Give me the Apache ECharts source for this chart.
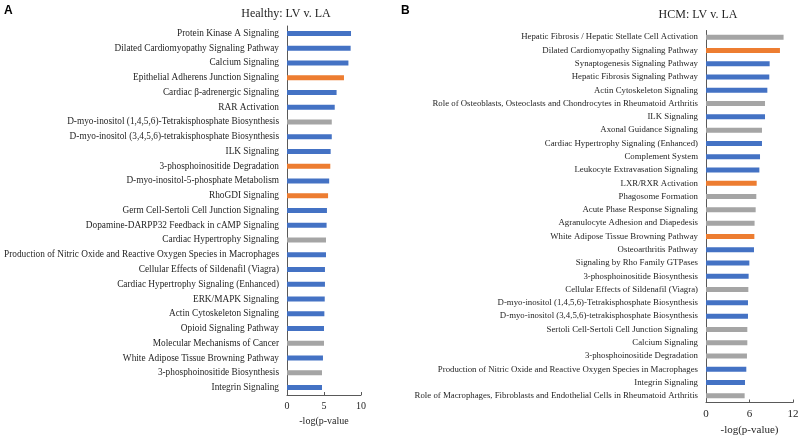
<!DOCTYPE html>
<html>
<head>
<meta charset="utf-8">
<script src="https://cdn.jsdelivr.net/npm/echarts@6/dist/echarts.min.js"></script>
<style>html,body{margin:0;padding:0;background:#fff}#c{width:800px;height:436px}</style>
</head>
<body>
<div id="c"></div>
<script>
// Panel A: Healthy: LV v. LA
const catsA = [
  "Protein Kinase A Signaling",
  "Dilated Cardiomyopathy Signaling Pathway",
  "Calcium Signaling",
  "Epithelial Adherens Junction Signaling",
  "Cardiac β-adrenergic Signaling",
  "RAR Activation",
  "D-myo-inositol (1,4,5,6)-Tetrakisphosphate Biosynthesis",
  "D-myo-inositol (3,4,5,6)-tetrakisphosphate Biosynthesis",
  "ILK Signaling",
  "3-phosphoinositide Degradation",
  "D-myo-inositol-5-phosphate Metabolism",
  "RhoGDI Signaling",
  "Germ Cell-Sertoli Cell Junction Signaling",
  "Dopamine-DARPP32 Feedback in cAMP Signaling",
  "Cardiac Hypertrophy Signaling",
  "Production of Nitric Oxide and Reactive Oxygen Species in Macrophages",
  "Cellular Effects of Sildenafil (Viagra)",
  "Cardiac Hypertrophy Signaling (Enhanced)",
  "ERK/MAPK Signaling",
  "Actin Cytoskeleton Signaling",
  "Opioid Signaling Pathway",
  "Molecular Mechanisms of Cancer",
  "White Adipose Tissue Browning Pathway",
  "3-phosphoinositide Biosynthesis",
  "Integrin Signaling"
];
const valsA = [8.65, 8.6, 8.3, 7.7, 6.7, 6.45, 6.05, 6.05, 5.9, 5.85, 5.7, 5.55, 5.4, 5.35, 5.27, 5.27, 5.13, 5.13, 5.1, 5.05, 5.0, 5.0, 4.86, 4.73, 4.73];
const kindA = ["B","B","B","O","B","B","G","B","B","O","B","O","B","B","G","B","B","B","B","B","B","G","B","G","B"];

// Panel B: HCM: LV v. LA
const catsB = [
  "Hepatic Fibrosis / Hepatic Stellate Cell Activation",
  "Dilated Cardiomyopathy Signaling Pathway",
  "Synaptogenesis Signaling Pathway",
  "Hepatic Fibrosis Signaling Pathway",
  "Actin Cytoskeleton Signaling",
  "Role of Osteoblasts, Osteoclasts and Chondrocytes in Rheumatoid Arthritis",
  "ILK Signaling",
  "Axonal Guidance Signaling",
  "Cardiac Hypertrophy Signaling (Enhanced)",
  "Complement System",
  "Leukocyte Extravasation Signaling",
  "LXR/RXR Activation",
  "Phagosome Formation",
  "Acute Phase Response Signaling",
  "Agranulocyte Adhesion and Diapedesis",
  "White Adipose Tissue Browning Pathway",
  "Osteoarthritis Pathway",
  "Signaling by Rho Family GTPases",
  "3-phosphoinositide Biosynthesis",
  "Cellular Effects of Sildenafil (Viagra)",
  "D-myo-inositol (1,4,5,6)-Tetrakisphosphate Biosynthesis",
  "D-myo-inositol (3,4,5,6)-tetrakisphosphate Biosynthesis",
  "Sertoli Cell-Sertoli Cell Junction Signaling",
  "Calcium Signaling",
  "3-phosphoinositide Degradation",
  "Production of Nitric Oxide and Reactive Oxygen Species in Macrophages",
  "Integrin Signaling",
  "Role of Macrophages, Fibroblasts and Endothelial Cells in Rheumatoid Arthritis"
];
const valsB = [10.7, 10.2, 8.78, 8.73, 8.46, 8.14, 8.14, 7.72, 7.72, 7.45, 7.36, 6.99, 6.94, 6.85, 6.7, 6.67, 6.62, 5.98, 5.88, 5.84, 5.79, 5.79, 5.7, 5.7, 5.65, 5.56, 5.38, 5.33];
const kindB = ["G","O","B","B","B","G","B","G","B","B","B","O","G","G","G","O","B","B","B","G","B","B","G","G","G","B","B","G"];

const ticksA = [0, 5, 10];
const ticksB = [0, 6, 12];

const palette = { B: "#4472C4", O: "#ED7D31", G: "#A5A5A5" };
const serif = "'Liberation Serif', 'Times New Roman', serif";
const sans = "'Liberation Sans', Arial, sans-serif";
const textColor = "#262626";

function items(vals, kinds) {
  return vals.map((v, i) => ({ value: v, itemStyle: { color: palette[kinds[i]] } }));
}

const chart = echarts.init(document.getElementById('c'), null, { renderer: 'canvas' });
const axisLine = { show: true, lineStyle: { color: '#595959', width: 1 } };

chart.setOption({
  animation: false,
  backgroundColor: '#fff',
  graphic: [
    { type: 'text', left: 4, top: 5, style: { text: 'A', font: 'bold 12px ' + sans, fill: '#000' } },
    { type: 'text', left: 401, top: 5, style: { text: 'B', font: 'bold 12px ' + sans, fill: '#000' } },
    { type: 'text', x: 286, y: 14, style: { text: 'Healthy: LV v. LA', font: '12px ' + serif, fill: textColor, align: 'center', verticalAlign: 'middle' } },
    { type: 'text', x: 698, y: 15, style: { text: 'HCM: LV v. LA', font: '12px ' + serif, fill: textColor, align: 'center', verticalAlign: 'middle' } }
  ],
  grid: [
    { left: 287, top: 26, width: 74, height: 369, containLabel: false, outerBoundsMode: 'none' },
    { left: 706, top: 30.5, width: 87, height: 372, containLabel: false, outerBoundsMode: 'none' }
  ],
  xAxis: [
    { type: 'value', gridIndex: 0, min: ticksA[0], max: ticksA[ticksA.length - 1], interval: ticksA[1] - ticksA[0],
      axisLine: axisLine, axisTick: { show: true, inside: true, length: 3, lineStyle: { color: '#595959' } }, splitLine: { show: false },
      axisLabel: { fontFamily: serif, fontSize: 10, color: textColor, margin: 6 },
      name: '-log(p-value', nameLocation: 'middle', nameGap: 20, nameTextStyle: { fontFamily: serif, fontSize: 10, color: textColor } },
    { type: 'value', gridIndex: 1, min: ticksB[0], max: ticksB[ticksB.length - 1], interval: ticksB[1] - ticksB[0],
      axisLine: axisLine, axisTick: { show: true, inside: true, length: 3, lineStyle: { color: '#595959' } }, splitLine: { show: false },
      axisLabel: { fontFamily: serif, fontSize: 11, color: textColor, margin: 6 },
      name: '-log(p-value)', nameLocation: 'middle', nameGap: 22, nameTextStyle: { fontFamily: serif, fontSize: 11, color: textColor } }
  ],
  yAxis: [
    { type: 'category', gridIndex: 0, data: catsA, inverse: true,
      axisLine: axisLine, axisTick: { show: false },
      axisLabel: { fontFamily: serif, fontSize: 9.3, color: textColor, margin: 8, interval: 0 } },
    { type: 'category', gridIndex: 1, data: catsB, inverse: true,
      axisLine: axisLine, axisTick: { show: false },
      axisLabel: { fontFamily: serif, fontSize: 8.8, color: textColor, margin: 8, interval: 0 } }
  ],
  series: [
    { type: 'bar', xAxisIndex: 0, yAxisIndex: 0, data: items(valsA, kindA), barWidth: 5 },
    { type: 'bar', xAxisIndex: 1, yAxisIndex: 1, data: items(valsB, kindB), barWidth: 5 }
  ]
});
</script>
</body>
</html>
